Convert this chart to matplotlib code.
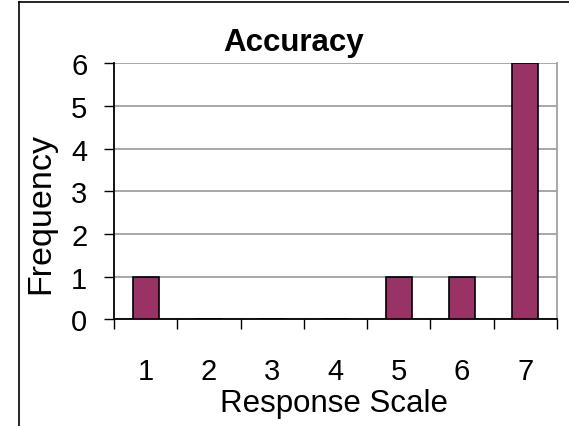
import matplotlib
matplotlib.use("Agg")
import matplotlib.pyplot as plt
from matplotlib.lines import Line2D
import numpy as np

categories = ["1", "2", "3", "4", "5", "6", "7"]
frequency = [1, 0, 0, 0, 1, 1, 6]
y_ticks = [0, 1, 2, 3, 4, 5, 6]

plt.rcParams['font.family'] = ['Liberation Sans', 'DejaVu Sans']

W, H = 569, 427
fig = plt.figure(figsize=(W / 100, H / 100), dpi=100)
fig.patch.set_facecolor('white')

ax = fig.add_axes([114 / W, 1 - 320.3 / H, (557 - 114) / W, (320.3 - 64.3) / H])

x = np.arange(1, len(categories) + 1)
ax.bar(x, frequency, width=0.41, color='#993366', edgecolor='black', linewidth=1.2, zorder=3)

ax.set_xlim(0.5, len(categories) + 0.5)
ax.set_ylim(0, 6)

ax.set_yticks(y_ticks)
ax.set_yticklabels([str(v) for v in y_ticks])
ax.yaxis.grid(True, color='#a0a0a0', linewidth=1.3, zorder=0)
ax.set_axisbelow(True)

ax.set_xticks(x)
ax.set_xticklabels(categories)
ax.set_xticks(np.arange(0.5, len(categories) + 1, 1.0), minor=True)
ax.tick_params(axis='x', which='major', length=0, pad=27, labelsize=21)
ax.tick_params(axis='x', which='minor', length=7.5, width=1.0, direction='out', color='black')
ax.tick_params(axis='y', which='major', length=7.2, width=1.0, direction='out', pad=12, labelsize=21)

ax.spines['top'].set_visible(False)
ax.spines['right'].set_color('#a0a0a0')
ax.spines['right'].set_linewidth(1.3)
ax.spines['left'].set_color('black')
ax.spines['left'].set_linewidth(1.3)
ax.spines['bottom'].set_color('black')
ax.spines['bottom'].set_linewidth(1.3)

ax.set_xlabel('Response Scale', fontsize=22.5)
ax.xaxis.set_label_coords((334 - 114) / 443, (320.3 - 404) / 256)
ax.xaxis.label.set_verticalalignment('center')

ax.set_ylabel('Frequency', fontsize=24.5)
ax.yaxis.set_label_coords((41 - 114) / 443, (320.3 - 214) / 256)
ax.yaxis.label.set_verticalalignment('center')

fig.text(294 / W, 1 - 51 / H, 'Accuracy', fontsize=22.5, fontweight='bold',
         ha='center', va='baseline')

# chart-area border (left and top edges visible)
fig.add_artist(Line2D([19 / W, 19 / W], [0, 1 - 3 / H], transform=fig.transFigure,
                      color='black', linewidth=1.2))
fig.add_artist(Line2D([19 / W, 1], [1 - 3 / H, 1 - 3 / H], transform=fig.transFigure,
                      color='black', linewidth=1.2))

fig.savefig('out.png', dpi=100)
